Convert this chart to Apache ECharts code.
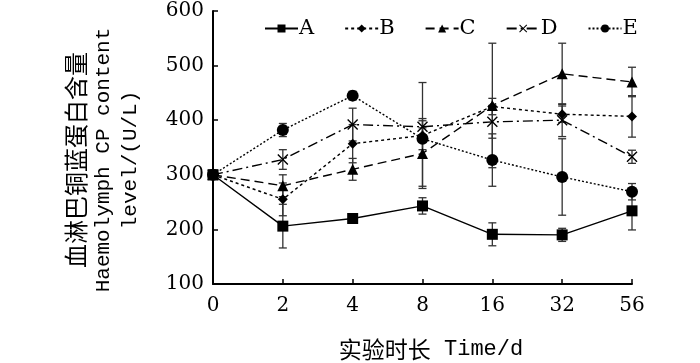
<!DOCTYPE html>
<html>
<head>
<meta charset="utf-8">
<script src="https://cdn.jsdelivr.net/npm/echarts@6/dist/echarts.min.js"></script>
<style>
  html, body {margin: 0; padding: 0; background: #fff;}
  #chart {width: 700px; height: 363px;}
</style>
</head>
<body>
<div id="chart"></div>
<script>
// 实验时长 (d)
var days = ['0', '2', '4', '8', '16', '32', '56'];
var yTicks = [100, 200, 300, 400, 500, 600];

// 血淋巴铜蓝蛋白含量 mean values
var seriesA = [300, 206, 220, 243, 191, 190, 234];
var seriesB = [300, 255, 357, 372, 425, 411, 407];
var seriesC = [300, 280, 310, 339, 427, 485, 470];
var seriesD = [300, 328, 392, 388, 397, 400, 333];
var seriesE = [300, 382, 445, 366, 327, 296, 269];

// error bars (SD)
var sdA = [8, 40, 6, 15, 21, 12, 35];
var sdB = [8, 30, 35, 97, 15, 15, 38];
var sdC = [8, 20, 20, 60, 114, 56, 27];
var sdD = [8, 18, 30, 15, 30, 30, 12];
var sdE = [8, 12, 8, 20, 48, 70, 15];

var names = ['A', 'B', 'C', 'D', 'E'];

var crossPath = 'path://M0,0.9 L0.9,0 L5,4.1 L9.1,0 L10,0.9 L5.9,5 L10,9.1 L9.1,10 L5,5.9 L0.9,10 L0,9.1 L4.1,5 Z';

var myChart = echarts.init(document.getElementById('chart'));

function errBars(vals, sds) {
    var out = [];
    for (var i = 0; i < vals.length; i++) {
        out.push([i, vals[i], sds[i]]);
    }
    return out;
}

function renderErr(params, api) {
    var x = api.value(0);
    var v = api.value(1);
    var sd = api.value(2);
    var top = api.coord([x, v + sd]);
    var bot = api.coord([x, v - sd]);
    var half = 4;
    var st = {stroke: '#333', lineWidth: 1.3, fill: null};
    return {
        type: 'group',
        children: [
            {type: 'line', shape: {x1: top[0], y1: top[1], x2: bot[0], y2: bot[1]}, style: st},
            {type: 'line', shape: {x1: top[0] - half, y1: top[1], x2: top[0] + half, y2: top[1]}, style: st},
            {type: 'line', shape: {x1: bot[0] - half, y1: bot[1], x2: bot[0] + half, y2: bot[1]}, style: st}
        ]
    };
}

function lineSeries(name, data, type, symbol, size) {
    return {
        name: name,
        type: 'line',
        data: data,
        symbol: symbol,
        symbolSize: size,
        z: 5,
        itemStyle: {color: '#000', borderWidth: 0},
        lineStyle: {color: '#000', width: 1.4, type: type}
    };
}

var option = {
    backgroundColor: '#fff',
    animation: false,
    grid: {left: 213, right: 68, top: 11, bottom: 79},
    legend: {
        data: names,
        left: 259,
        top: 13,
        itemWidth: 33,
        itemHeight: 10,
        itemGap: 30,
        textStyle: {color: '#000', fontSize: 21, fontFamily: 'DejaVu Serif', padding: [0, 0, 0, -4]}
    },
    xAxis: {
        type: 'category',
        data: days,
        boundaryGap: false,
        axisLine: {lineStyle: {color: '#000', width: 2}},
        axisTick: {inside: true, length: 5, alignWithLabel: true, lineStyle: {color: '#000', width: 1.5}},
        axisLabel: {color: '#000', fontSize: 20, fontFamily: 'DejaVu Serif', margin: 12}
    },
    yAxis: {
        type: 'value',
        min: yTicks[0],
        max: yTicks[yTicks.length - 1],
        interval: 100,
        splitLine: {show: false},
        axisLine: {show: true, lineStyle: {color: '#000', width: 2}},
        axisTick: {show: true, inside: true, length: 5, lineStyle: {color: '#000', width: 1.5}},
        axisLabel: {color: '#000', fontSize: 20, fontFamily: 'DejaVu Serif', margin: 9}
    },
    graphic: [
        {
            type: 'text',
            x: 103,
            y: 160,
            rotation: Math.PI / 2,
            style: {
                text: '{cn|血淋巴铜蓝蛋白含量}\n{en|Haemolymph CP content}\n{en|level/(U/L)}',
                align: 'center',
                verticalAlign: 'middle',
                fill: '#000',
                rich: {
                    cn: {fontSize: 24, fontFamily: 'Noto Sans CJK SC', lineHeight: 28, fill: '#000', align: 'center'},
                    en: {fontSize: 21, fontFamily: 'Liberation Mono', lineHeight: 27, fill: '#000', align: 'center'}
                }
            }
        },
        {
            type: 'text',
            x: 431,
            y: 349,
            style: {
                text: '{cn|实验时长}{en|\u00a0Time/d}',
                align: 'center',
                verticalAlign: 'middle',
                fill: '#000',
                rich: {
                    cn: {fontSize: 23, fontFamily: 'Noto Sans CJK SC', fill: '#000'},
                    en: {fontSize: 22, fontFamily: 'Liberation Mono', fill: '#000'}
                }
            }
        }
    ],
    series: [
        lineSeries('A', seriesA, 'solid', 'rect', 11),
        lineSeries('B', seriesB, [3, 3], 'diamond', 10),
        lineSeries('C', seriesC, [9, 5], 'triangle', 11),
        lineSeries('D', seriesD, [10, 4, 2, 4], crossPath, 11),
        lineSeries('E', seriesE, [2, 2], 'circle', 12),
        {type: 'custom', renderItem: renderErr, data: errBars(seriesA, sdA), z: 3},
        {type: 'custom', renderItem: renderErr, data: errBars(seriesB, sdB), z: 3},
        {type: 'custom', renderItem: renderErr, data: errBars(seriesC, sdC), z: 3},
        {type: 'custom', renderItem: renderErr, data: errBars(seriesD, sdD), z: 3},
        {type: 'custom', renderItem: renderErr, data: errBars(seriesE, sdE), z: 3}
    ]
};

myChart.setOption(option);
</script>
</body>
</html>
